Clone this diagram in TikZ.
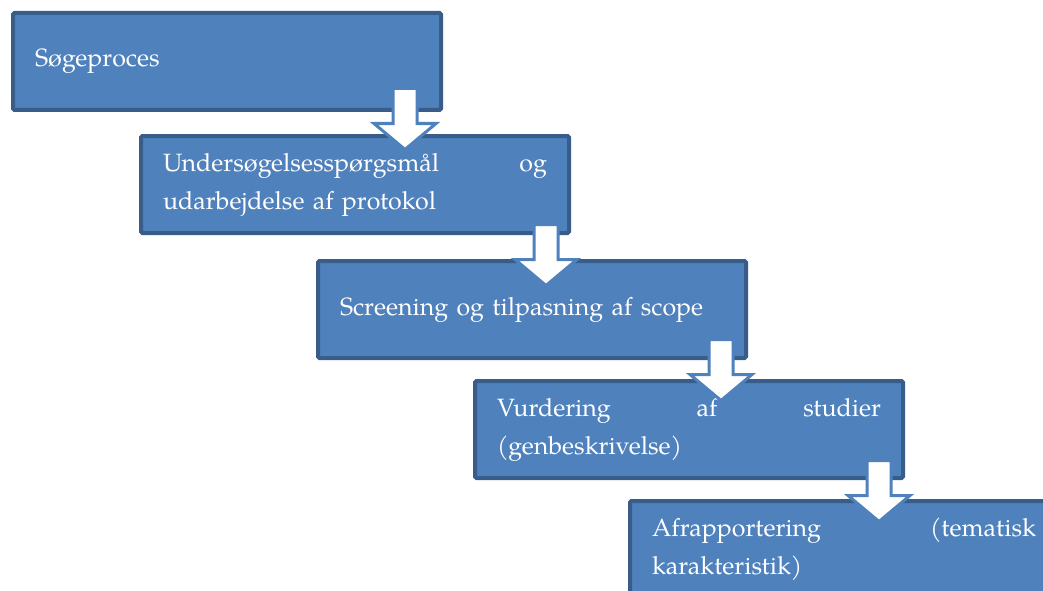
\documentclass[tikz,border=0pt]{standalone}
\usepackage{fontspec}
\setmainfont{TeX Gyre Pagella}
\usetikzlibrary{calc}
\definecolor{boxfill}{RGB}{79,129,189}
\definecolor{boxline}{RGB}{56,93,138}
\setlength{\parindent}{0pt}
\begin{document}
\begin{tikzpicture}[x=1pt, y=-1pt,
    stage/.style = {draw=boxline, line width=4pt, fill=boxfill, rounded corners=1.5pt,
        anchor=north west, minimum width=428pt, minimum height=97pt, inner sep=0pt,
        text width=384pt, align=left, text=white, font=\fontsize{25}{38}\selectfont},
    flow/.pic = {\draw[draw=boxfill, fill=white, line width=3pt, line join=miter]
        (-12,0) -- (12,0) -- (12,35) -- (31,35) -- (0,61) -- (-31,35) -- (-12,35) -- cycle;}]
    \useasboundingbox (0,0) rectangle (1043,591);
    \clip (0,0) rectangle (1043,591);
    % the five steps
    \node[stage] (s1) at (11,11) {Søgeproces};
    \node[stage] (s2) at (139,134) {Undersøgelsesspørgsmål\hfill og\\udarbejdelse af protokol};
    \node[stage] (s3) at (316,259) {Screening og tilpasning af scope};
    \node[stage] (s4) at (473,379) {Vurdering\hfill af\hfill studier\\(genbeskrivelse)};
    \node[stage] (s5) at (628,499) {Afrapportering\hfill (tematisk\\karakteristik)};
    % block arrows between the steps
    \pic at ($(s1.south east)+(-38,-23.5)$) {flow};
    \pic at ($(s2.south east)+(-25,-10.5)$) {flow};
    \pic at ($(s3.south east)+(-27,-20.5)$) {flow};
    \pic at ($(s4.south east)+(-26,-19.5)$) {flow};
\end{tikzpicture}
\end{document}
